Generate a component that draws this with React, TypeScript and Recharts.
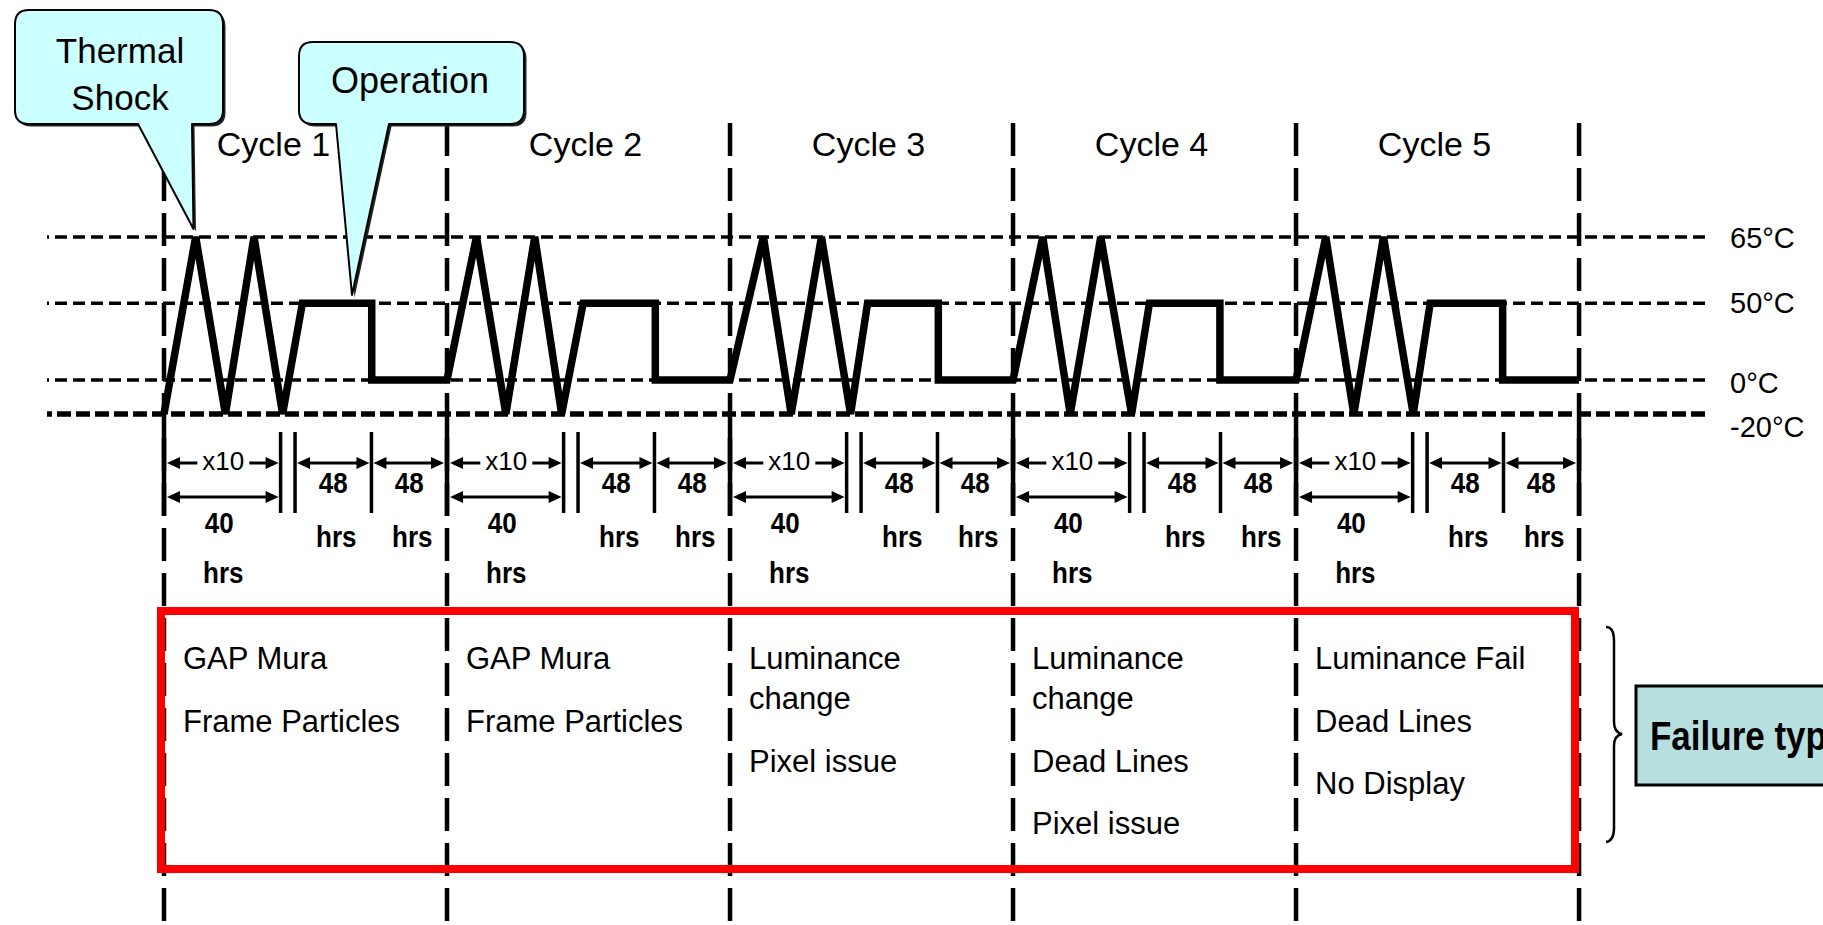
import React from 'react';
import { ComposedChart, Line, XAxis, YAxis, ReferenceLine } from 'recharts';

// ---------- DATA ----------
const CYCLE_LABELS = ['Cycle 1', 'Cycle 2', 'Cycle 3', 'Cycle 4', 'Cycle 5'];
// schematic time axis: 10 units per cycle
const CYCLE_STARTS = [0, 10, 20, 30, 40, 50];
const TEMP_LEVELS = [65, 50, 0, -20];
const TEMP_LABELS = ['65°C', '50°C', '0°C', '-20°C'];

const CYCLE1_T = [0, 1.12, 2.17, 3.18, 4.19, 4.89, 7.34, 7.34, 10];
const CYCLE1_TEMP = [-20, 65, -20, 65, -20, 50, 50, 0, 0];
const CYCLE2_T = [11.04, 12.08, 13.1, 14.05, 14.81, 17.36, 17.36, 20];
const CYCLE2_TEMP = [65, -20, 65, -20, 50, 50, 0, 0];
const CYCLE3_T = [21.18, 22.16, 23.23, 24.26, 24.86, 27.36, 27.36, 30];
const CYCLE3_TEMP = [65, -20, 65, -20, 50, 50, 0, 0];
const CYCLE4_T = [31.05, 32.02, 33.1, 34.19, 34.82, 37.31, 37.31, 40];
const CYCLE4_TEMP = [65, -20, 65, -20, 50, 50, 0, 0];
const CYCLE5_T = [41.05, 42.04, 43.09, 44.14, 44.74, 47.3, 47.3, 50];
const CYCLE5_TEMP = [65, -20, 65, -20, 50, 50, 0, 0];

// phase boundaries inside a cycle (time units): end of shocks, start of operation, start of storage
const PHASE_MARKS = [4.12, 4.63, 7.33];
const SHOCK_REPEAT = 'x10';
const SHOCK_HOURS = '40';
const OPERATION_HOURS = '48';
const STORAGE_HOURS = '48';
const HOURS_UNIT = 'hrs';

const FAILURES: string[][] = [
  ['GAP Mura', 'Frame Particles'],
  ['GAP Mura', 'Frame Particles'],
  ['Luminance|change', 'Pixel issue'],
  ['Luminance|change', 'Dead Lines', 'Pixel issue'],
  ['Luminance Fail', 'Dead Lines', 'No Display'],
];

// schematic (non-uniform) temperature axis: temperature -> axis level
const TEMP_AXIS_TEMPS = [-20, 0, 50, 65];
const TEMP_AXIS_LEVELS = [0, 1, 3.26, 5.21];

function toLevel(temp: number) {
  for (let i = 0; i < TEMP_AXIS_TEMPS.length - 1; i++) {
    const a = TEMP_AXIS_TEMPS[i], b = TEMP_AXIS_TEMPS[i + 1];
    if (temp <= b || i === TEMP_AXIS_TEMPS.length - 2) {
      const f = (temp - a) / (b - a);
      return TEMP_AXIS_LEVELS[i] + f * (TEMP_AXIS_LEVELS[i + 1] - TEMP_AXIS_LEVELS[i]);
    }
  }
  return 0;
}

const profile = [
  [CYCLE1_T, CYCLE1_TEMP],
  [CYCLE2_T, CYCLE2_TEMP],
  [CYCLE3_T, CYCLE3_TEMP],
  [CYCLE4_T, CYCLE4_TEMP],
  [CYCLE5_T, CYCLE5_TEMP],
].flatMap(([ts, temps]) => ts.map((t, i) => ({ t, temp: temps[i], level: toLevel(temps[i]) })));

// ---------- LAYOUT ----------
const W = 1823;
const H = 925;
const FONT = '"Liberation Sans", Arial, Helvetica, sans-serif';
const MARGIN = { top: 0, right: 0, bottom: 0, left: 47 };
const X_AXIS_H = 123;
const Y_AXIS_W = 118;
const X_DOMAIN: [number, number] = [-4.134, 54.45];
const Y_DOMAIN: [number, number] = [-15.03, 8.56];
const PLOT = { x: MARGIN.left, y: X_AXIS_H, w: W - MARGIN.left - Y_AXIS_W, h: H - X_AXIS_H };
// same linear mapping as the chart's x scale, for the annotation overlay
const px = (t: number) => PLOT.x + ((t - X_DOMAIN[0]) / (X_DOMAIN[1] - X_DOMAIN[0])) * PLOT.w;

const cycleMidTicks = CYCLE_STARTS.slice(0, -1).map((s, i) => (s + CYCLE_STARTS[i + 1]) / 2);

const TEMP_LABEL_NUDGE: Record<string, number> = { '65°C': 1, '50°C': 0, '0°C': 3, '-20°C': 13 };

const CycleTick = (p: any) => (
  <text
    x={p.x + (p.index === 0 ? -32 : -3)}
    y={p.y + 33}
    textAnchor="middle"
    fontFamily={FONT}
    fontSize={34}
    fill="#000"
  >
    {CYCLE_LABELS[p.index]}
  </text>
);

const TempTick = (p: any) => {
  const idx = TEMP_LEVELS.findIndex((t) => Math.abs(toLevel(t) - p.payload.value) < 1e-6);
  const label = TEMP_LABELS[idx] ?? '';
  return (
    <text
      x={p.x}
      y={p.y + (TEMP_LABEL_NUDGE[label] ?? 0)}
      textAnchor="start"
      dominantBaseline="central"
      fontFamily={FONT}
      fontSize={29}
      fill="#000"
    >
      {label}
    </text>
  );
};

const Txt = ({ x, y, size, bold, anchor = 'start', sy = 1, children }: any) => (
  <text
    transform={`translate(${x},${y}) scale(1,${sy})`}
    fontSize={size}
    fontWeight={bold ? 'bold' : 'normal'}
    textAnchor={anchor}
    fontFamily={FONT}
    fill="#000"
  >
    {children}
  </text>
);

const Arrow = ({ x1, x2, y }: { x1: number; x2: number; y: number }) => {
  const L = 13;
  const hw = 6;
  return (
    <g>
      <line x1={x1 + L - 1} x2={x2 - L + 1} y1={y} y2={y} stroke="#000" strokeWidth={3} />
      <polygon points={`${x1},${y} ${x1 + L},${y - hw} ${x1 + L},${y + hw}`} fill="#000" />
      <polygon points={`${x2},${y} ${x2 - L},${y - hw} ${x2 - L},${y + hw}`} fill="#000" />
    </g>
  );
};

function calloutPath(x1: number, y1: number, x2: number, y2: number, r: number, tailL: number, tailR: number, tipX: number, tipY: number) {
  return `M${x1 + r},${y1} H${x2 - r} Q${x2},${y1} ${x2},${y1 + r} V${y2 - r} Q${x2},${y2} ${x2 - r},${y2} H${tailR} L${tipX},${tipY} L${tailL},${y2} H${x1 + r} Q${x1},${y2} ${x1},${y2 - r} V${y1 + r} Q${x1},${y1} ${x1 + r},${y1} Z`;
}

const Callout = ({ d }: { d: string }) => (
  <g>
    <path d={d} transform="translate(2.5,2.5)" fill="#222" />
    <path d={d} fill="#CCFFFF" stroke="#000" strokeWidth={2} strokeLinejoin="round" />
  </g>
);

const Overlay = () => {
  const A1 = 463; // repeat / operation arrows
  const A2 = 497; // shock hours arrow
  return (
    <svg width={W} height={H} style={{ position: 'absolute', left: 0, top: 0, pointerEvents: 'none' }}>
      {/* boundary extension lines in the dimension row */}
      {CYCLE_STARTS.map((s) => (
        <line key={'ext' + s} x1={px(s)} x2={px(s)} y1={426} y2={516} stroke="#000" strokeWidth={4.5} />
      ))}
      {CYCLE_STARTS.slice(0, -1).map((s, i) => {
        const B = px(s);
        const m1 = px(s + PHASE_MARKS[0]);
        const m2 = px(s + PHASE_MARKS[1]);
        const m3 = px(s + PHASE_MARKS[2]);
        const E = px(CYCLE_STARTS[i + 1]);
        const c1 = (B + m1) / 2;
        const c2 = (m2 + m3) / 2;
        const c3 = (m3 + E) / 2;
        return (
          <g key={'dim' + i}>
            {[m1, m2, m3].map((m, k) => (
              <line key={k} x1={m} x2={m} y1={432} y2={513} stroke="#000" strokeWidth={3.5} />
            ))}
            <Arrow x1={B + 3} x2={m1 - 2} y={A1} />
            <rect x={c1 - 25} y={448} width={52} height={26} fill="#fff" />
            <Txt x={c1 + 1} y={470} size={26} anchor="middle">{SHOCK_REPEAT}</Txt>
            <Arrow x1={B + 3} x2={m1 - 2} y={A2} />
            <Txt x={c1 - 3} y={533} size={26} bold anchor="middle" sy={1.12}>{SHOCK_HOURS}</Txt>
            <Txt x={c1 + 1} y={583} size={26} bold anchor="middle" sy={1.12}>{HOURS_UNIT}</Txt>
            <Arrow x1={m2 + 2} x2={m3 - 2} y={A1} />
            <Txt x={c2} y={493} size={26} bold anchor="middle" sy={1.12}>{OPERATION_HOURS}</Txt>
            <Txt x={c2 + 3} y={547} size={26} bold anchor="middle" sy={1.12}>{HOURS_UNIT}</Txt>
            <Arrow x1={m3 + 2} x2={E - 3} y={A1} />
            <Txt x={c3} y={493} size={26} bold anchor="middle" sy={1.12}>{STORAGE_HOURS}</Txt>
            <Txt x={c3 + 3} y={547} size={26} bold anchor="middle" sy={1.12}>{HOURS_UNIT}</Txt>
          </g>
        );
      })}

      {/* failure box */}
      <rect x={161} y={611} width={1414} height={258} fill="none" stroke="#FF0000" strokeWidth={8} />
      {FAILURES.map((items, i) => {
        const x = px(CYCLE_STARTS[i]) + 19;
        let y = 669;
        const out: any[] = [];
        items.forEach((item, k) => {
          const lines = item.split('|');
          lines.forEach((ln, j) => {
            out.push(
              <Txt key={k + '-' + j} x={x} y={y} size={31}>{ln}</Txt>
            );
            if (j < lines.length - 1) y += 40;
          });
          y += 62.5;
        });
        return <g key={'f' + i}>{out}</g>;
      })}

      {/* brace */}
      <path
        d="M1606,627 C1612,627 1614,632 1614,641 L1614,722 C1614,730 1617,733 1622,734 C1617,735 1614,738 1614,746 L1614,828 C1614,836 1612,841 1606,842"
        fill="none"
        stroke="#000"
        strokeWidth={2.5}
      />
      <rect x={1636} y={686} width={210} height={99} fill="#B7DFE0" stroke="#000" strokeWidth={3} />
      <Txt x={1650} y={750} size={35} bold sy={1.15}>Failure type</Txt>

      {/* callouts */}
      <Callout d={calloutPath(15, 10, 223, 124, 14, 138, 192, 193.5, 229)} />
      <Txt x={120} y={63} size={35} anchor="middle">Thermal</Txt>
      <Txt x={120} y={110} size={35} anchor="middle">Shock</Txt>
      <Callout d={calloutPath(299, 42, 524, 124, 14, 336, 389, 352, 295)} />
      <Txt x={410} y={93} size={36} anchor="middle">Operation</Txt>
    </svg>
  );
};

export default function App() {
  return (
    <div style={{ position: 'absolute', left: 0, top: 0, width: W, height: H, background: '#fff', overflow: 'hidden' }}>
      <ComposedChart width={W} height={H} data={profile} margin={MARGIN}>
        <XAxis
          dataKey="t"
          type="number"
          domain={X_DOMAIN}
          allowDataOverflow
          orientation="top"
          height={X_AXIS_H}
          ticks={cycleMidTicks}
          interval={0}
          tick={<CycleTick />}
          axisLine={false}
          tickLine={false}
          tickSize={0}
          tickMargin={0}
        />
        <YAxis
          type="number"
          domain={Y_DOMAIN}
          allowDataOverflow
          orientation="right"
          width={Y_AXIS_W}
          ticks={TEMP_LEVELS.map(toLevel)}
          interval={0}
          tick={<TempTick />}
          axisLine={false}
          tickLine={false}
          tickSize={0}
          tickMargin={25}
        />
        {CYCLE_STARTS.map((s) => (
          <ReferenceLine key={'v' + s} x={s} stroke="#000" strokeWidth={4.5} strokeDasharray="33 12" />
        ))}
        {TEMP_LEVELS.map((t) => (
          <ReferenceLine
            key={'h' + t}
            y={toLevel(t)}
            stroke="#000"
            strokeWidth={t === -20 ? 5.5 : 3.5}
            strokeDasharray={t === -20 ? '14 5' : '12 6'}
          />
        ))}
        <Line
          dataKey="level"
          type="linear"
          stroke="#000"
          strokeWidth={7.5}
          strokeLinejoin="miter"
          dot={false}
          activeDot={false}
          isAnimationActive={false}
        />
      </ComposedChart>
      <Overlay />
    </div>
  );
}
